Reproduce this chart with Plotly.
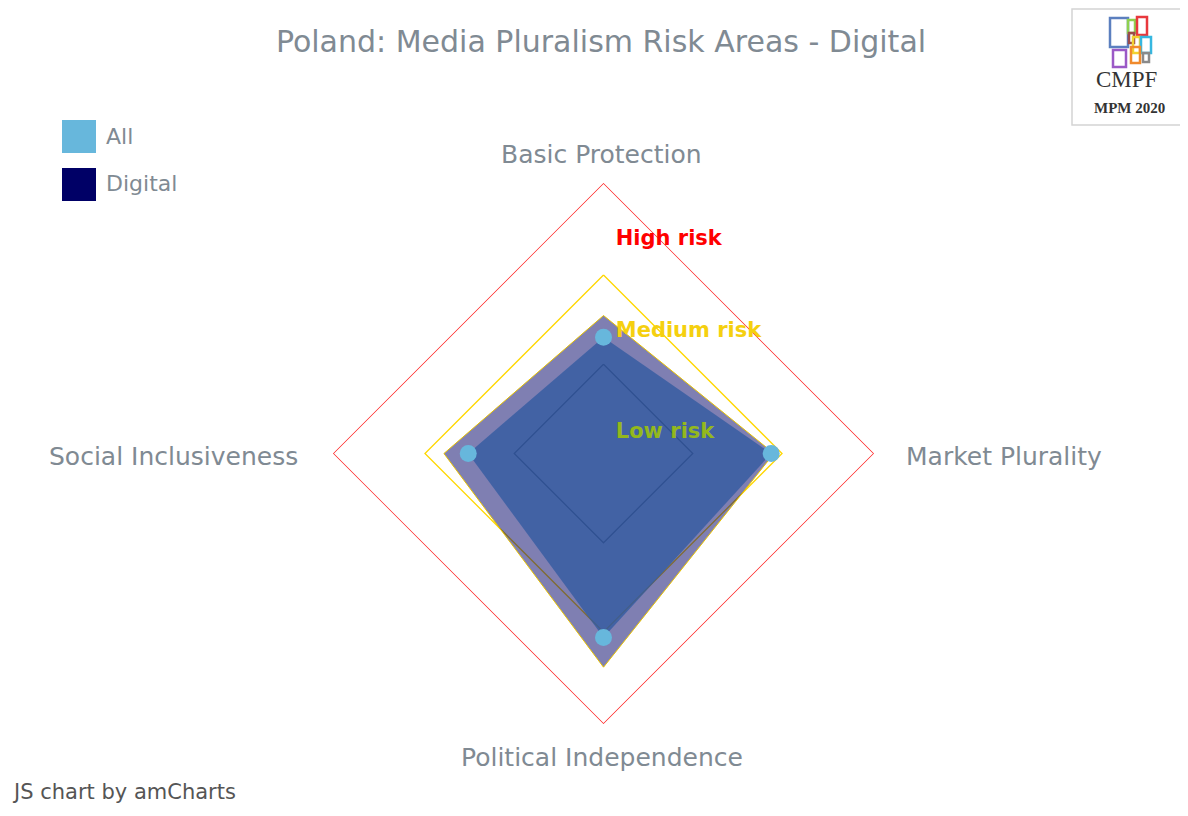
import plotly.graph_objects as go

OFF = 8  # page body margin
W, H = 1188 - OFF, 816 - 2 * OFF

categories = ["Basic Protection", "Market Plurality", "Political Independence", "Social Inclusiveness"]
all_values = [43, 62, 68, 50]
digital_values = [51, 63, 79, 59]

risk_levels = [33, 66, 100]
risk_colors = ["#404a40", "#ffd700", "#ff1a1a"]
risk_names = ["Low risk", "Medium risk", "High risk"]
risk_label_r = [7.6, 44.9, 78.9]
risk_label_colors = ["#93b81c", "#f5d00f", "#ff0000"]

legend_names = ["All", "Digital"]
legend_colors = ["#67b7dc", "#000066"]

GREY = "#808a93"
FONT = "DejaVu Sans"


def X(px):
    return (px - OFF) / W


def Y(py):
    return 1 - (py - OFF) / H


def closed(vals):
    return list(vals) + [vals[0]]


theta_closed = closed(categories)

fig = go.Figure()

for lvl, col, nm in zip(risk_levels, risk_colors, risk_names):
    fig.add_trace(go.Scatterpolar(
        r=[lvl] * (len(categories) + 1), theta=theta_closed, mode="lines",
        line=dict(color=col, width=1.3), hoverinfo="skip", showlegend=False, name=nm))

fig.add_trace(go.Scatterpolar(
    r=closed(all_values), theta=theta_closed, mode="lines", fill="toself",
    fillcolor="rgba(103,183,220,0.8)", line=dict(color="rgba(103,183,220,0)", width=0),
    name="All", showlegend=False))

fig.add_trace(go.Scatterpolar(
    r=closed(digital_values), theta=theta_closed, mode="lines", fill="toself",
    fillcolor="rgba(0,0,102,0.5)", line=dict(color="#e8c200", width=1),
    name="Digital", showlegend=False))

fig.add_trace(go.Scatterpolar(
    r=all_values, theta=categories, mode="markers",
    marker=dict(color="#67b7dc", size=17), name="All", showlegend=False))

for rr, nm, col in zip(risk_label_r, risk_names, risk_label_colors):
    fig.add_trace(go.Scatterpolar(
        r=[rr], theta=[categories[0]], mode="markers+text", text=[nm],
        textposition="middle right",
        marker=dict(size=18, color="rgba(0,0,0,0)"),
        textfont=dict(family=FONT, size=21, color=col, weight="bold"),
        hoverinfo="skip", showlegend=False))

fig.update_layout(
    width=W, height=H,
    margin=dict(l=0, r=0, t=0, b=0),
    paper_bgcolor="white", plot_bgcolor="white",
    showlegend=False,
    title=dict(text="Poland: Media Pluralism Risk Areas - Digital",
               x=X(601), y=Y(41), xanchor="center", yanchor="middle",
               font=dict(family=FONT, size=30, color=GREY)),
    polar=dict(
        domain=dict(x=[X(333), X(874)], y=[Y(724), Y(183)]),
        bgcolor="rgba(0,0,0,0)",
        gridshape="linear",
        radialaxis=dict(range=[0, 100], visible=False, showgrid=False),
        angularaxis=dict(
            categoryorder="array", categoryarray=categories,
            rotation=90, direction="clockwise",
            showgrid=False, showline=False, ticks="", showticklabels=False),
    ),
)

shapes = []
annotations = []

cat_pos = [
    (602, 155, "center"),
    (904, 456, "left"),
    (602, 757, "center"),
    (300, 456, "right"),
]
for cat, (px, py, anc) in zip(categories, cat_pos):
    annotations.append(dict(text=cat, xref="paper", yref="paper", x=X(px), y=Y(py),
                            xanchor=anc, yanchor="middle", showarrow=False,
                            font=dict(family=FONT, size=25, color=GREY)))

for i, (nm, col) in enumerate(zip(legend_names, legend_colors)):
    top = 120 + i * 48
    shapes.append(dict(type="rect", xref="paper", yref="paper",
                       x0=X(62), x1=X(96), y0=Y(top + 33), y1=Y(top),
                       fillcolor=col, line=dict(width=0)))
    annotations.append(dict(text=nm, xref="paper", yref="paper",
                            x=X(104), y=Y(top + 16), xanchor="left", yanchor="middle",
                            showarrow=False, font=dict(family=FONT, size=22, color=GREY)))

shapes.append(dict(type="rect", xref="paper", yref="paper",
                   x0=X(1072), x1=X(1184), y0=Y(125), y1=Y(9),
                   fillcolor="white", line=dict(color="#d4d4d4", width=1.5)))
logo_rects = [
    ((1110, 18, 1128, 47), "#5b7fbf"),
    ((1128, 20, 1135, 33), "#8fd14f"),
    ((1137, 17, 1147, 35), "#e8383d"),
    ((1129, 33, 1134, 43), "#9b4a4a"),
    ((1133, 37, 1140, 53), "#f2d22e"),
    ((1141, 37, 1151, 53), "#36b7e0"),
    ((1113, 50, 1126, 67), "#9b59c6"),
    ((1131, 47, 1140, 63), "#f08a2c"),
    ((1143, 53, 1149, 62), "#8a8a8a"),
]
for (x0, y0, x1, y1), col in logo_rects:
    shapes.append(dict(type="rect", xref="paper", yref="paper",
                       x0=X(x0), x1=X(x1), y0=Y(y1), y1=Y(y0),
                       fillcolor="rgba(255,255,255,0)", line=dict(color=col, width=2.5)))
annotations.append(dict(text="CMPF", xref="paper", yref="paper", x=X(1126), y=Y(79),
                        xanchor="center", yanchor="middle", showarrow=False,
                        font=dict(family="Liberation Serif", size=23, color="#333333")))
annotations.append(dict(text="<b>MPM 2020</b>", xref="paper", yref="paper", x=X(1129), y=Y(108),
                        xanchor="center", yanchor="middle", showarrow=False,
                        font=dict(family="Liberation Serif", size=15, color="#333333")))
annotations.append(dict(text="JS chart by amCharts", xref="paper", yref="paper", x=X(10), y=Y(806),
                        xanchor="left", yanchor="bottom", showarrow=False,
                        font=dict(family=FONT, size=21, color="#555555")))

fig.update_layout(shapes=shapes, annotations=annotations)

fig.write_html("out.html")
